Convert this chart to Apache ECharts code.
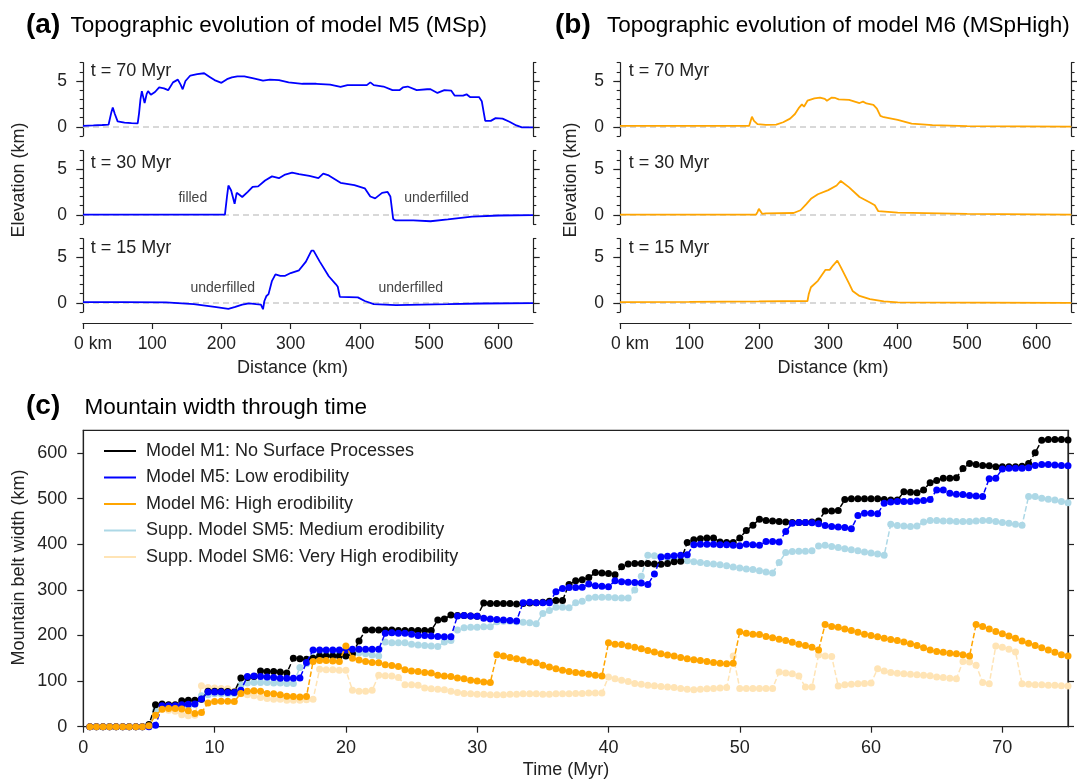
<!DOCTYPE html>
<html><head><meta charset="utf-8">
<script src="https://cdn.jsdelivr.net/npm/echarts@6/dist/echarts.min.js"></script>
<style>html,body{margin:0;padding:0;background:#fff}#c{width:1077px;height:782px}</style>
</head><body><div id="c"></div><script>
// ---------------- DATA ----------------
// Panel (a): model M5 topography profiles (distance km, elevation km)
const m5_70_dist = [0,15,28,37,39,41,43,46,50,60, 70,79,81,83,85,89,92,94,98,104, 110,117,123,130,137,141,144,148,155,165, 175,183,190,200,208,215,223,233,248,260, 270,283,297,317,337,357,372,382,397,410, 415,420,434,447,457,462,469,482,497,502, 512,522,532,537,549,554,559,572,576,579, 581,589,596,606,616,626,634,650];
const m5_70_elev = [0.1,0.15,0.2,0.25,0.3,1.6,2.1,1.4,0.6,0.45, 0.4,0.38,1.5,3.0,3.9,2.6,3.6,3.9,3.5,3.8, 4.3,4.2,4.0,4.85,5.15,4.6,4.1,5.0,5.6,5.75, 5.85,5.45,5.1,4.8,5.2,5.4,5.5,5.5,5.25,5.05, 5.15,5.1,4.85,4.7,4.7,4.6,4.35,4.55,4.55,4.55, 4.85,4.55,4.4,4.0,4.0,4.3,4.4,4.0,4.1,4.1, 3.7,4.0,3.95,3.4,3.4,3.55,3.25,3.25,2.8,1.5, 0.65,0.65,0.95,0.9,0.55,0.15,-0.05,-0.05];
const m5_30_dist = [0,100,200,205,208,210,214,219,222,225, 230,238,245,253,263,273,283,292,302,312, 327,340,347,355,372,392,407,415,422,432, 440,444,448,451,477,502,527,562,601,650];
const m5_30_elev = [0.02,0.02,0.02,0.02,2.0,3.2,2.65,1.2,2.4,2.25, 1.95,2.5,3.05,3.1,3.75,4.2,4.0,4.4,4.6,4.45, 4.25,4.0,4.5,4.3,3.5,3.25,2.9,2.0,1.8,2.4, 2.5,2.0,-0.45,-0.6,-0.6,-0.7,-0.5,-0.2,-0.07,-0.03];
const m5_15_dist = [0,60,120,160,190,210,220,230,240,250, 257,260,262,265,268,273,278,285,292,300, 312,322,330,333,342,355,365,368,371,397, 407,420,452,527,577,650];
const m5_15_elev = [0.07,0.07,0.05,-0.15,-0.45,-0.65,-0.45,-0.2,-0.05,-0.15, -0.2,-0.7,0.2,0.75,0.95,2.4,3.1,2.95,2.95,3.25, 3.55,4.5,5.7,5.7,4.5,2.9,2.05,1.75,0.65,0.6, 0.2,-0.15,-0.25,-0.15,-0.07,-0.03];
// Panel (b): model M6 topography profiles
const m6_70_dist = [0,100,186,188,190,193,198,210,225,235, 245,252,258,262,265,270,280,288,295,298, 305,310,315,330,345,350,355,365,370,375, 380,400,420,450,500,650];
const m6_70_elev = [0.1,0.1,0.1,0.3,1.1,0.65,0.3,0.22,0.25,0.5, 0.9,1.4,2.1,2.45,2.2,2.85,3.1,3.2,3.05,2.85, 3.2,3.15,3.0,2.95,2.6,2.75,2.55,2.4,2.0,1.2, 1.05,0.75,0.35,0.18,0.08,0.02];
const m6_30_dist = [0,100,196,198,200,205,210,250,260,268, 275,285,300,312,318,330,345,360,367,372, 400,500,650];
const m6_30_elev = [0.02,0.02,0.03,0.3,0.65,0.1,0.15,0.2,0.5,1.15, 1.75,2.25,2.7,3.2,3.7,3.0,1.95,1.35,1.05,0.4, 0.25,0.1,0.03];
const m6_15_dist = [0,100,200,270,272,275,285,296,302,307,313,318,330,335,345,360,380,400,650];
const m6_15_elev = [0.07,0.1,0.15,0.2,1.0,1.7,2.4,3.6,3.6,4.1,4.6,3.9,2.1,1.3,0.75,0.4,0.15,0.05,0.0];

// Panel (c): mountain belt width (km) through time (Myr)
const times = [0.5,1,1.5,2,2.5,3,3.5,4,4.5,5, 5.5,6,6.5,7,7.5,8,8.5,9,9.5,10, 10.5,11,11.5,12,12.5,13,13.5,14,14.5,15, 15.5,16,16.5,17,17.5,18,18.5,19,19.5,20, 20.5,21,21.5,22,22.5,23,23.5,24,24.5,25, 25.5,26,26.5,27,27.5,28,28.5,29,29.5,30, 30.5,31,31.5,32,32.5,33,33.5,34,34.5,35, 35.5,36,36.5,37,37.5,38,38.5,39,39.5,40, 40.5,41,41.5,42,42.5,43,43.5,44,44.5,45, 45.5,46,46.5,47,47.5,48,48.5,49,49.5,50, 50.5,51,51.5,52,52.5,53,53.5,54,54.5,55, 55.5,56,56.5,57,57.5,58,58.5,59,59.5,60, 60.5,61,61.5,62,62.5,63,63.5,64,64.5,65, 65.5,66,66.5,67,67.5,68,68.5,69,69.5,70, 70.5,71,71.5,72,72.5,73,73.5,74,74.5,75];
const widthM1 = [0,0,0,0,0,0,0,0,0,5, 48,50,48,48,57,58,58,60,78,78, 78,77,76,107,108,110,122,121,121,120, 118,150,149,148,150,155,155,155,155,155, 160,188,212,212,212,212,212,211,211,211, 211,211,211,234,236,245,244,244,243,242, 271,270,270,270,270,269,270,271,272,273, 275,277,277,312,320,322,327,338,337,336, 333,351,357,358,358,358,357,356,358,362, 363,404,410,412,414,414,405,404,404,414, 430,442,455,452,451,450,449,448,448,448, 449,451,473,473,474,498,500,500,500,500, 500,498,497,497,515,514,513,519,535,540, 545,545,546,566,577,575,573,572,570,570, 570,570,571,577,601,628,630,630,630,629];
const widthM5 = [0,0,0,0,0,0,0,0,0,0, 3,46,46,46,48,49,50,61,76,76, 76,75,75,80,110,111,110,109,108,106, 106,106,107,141,168,168,168,168,168,168, 170,170,170,170,170,205,206,205,205,203, 200,200,199,198,197,197,243,244,243,242, 238,236,235,234,233,232,272,273,272,272, 272,296,303,305,305,306,313,309,308,307, 320,318,317,316,315,312,335,372,374,375, 376,377,399,400,400,400,399,399,398,397, 400,399,398,406,406,405,428,446,448,448, 447,445,441,439,438,437,434,463,468,468, 467,490,493,494,494,494,495,496,498,519, 519,512,510,509,507,506,505,544,545,565, 567,567,567,568,573,575,575,574,573,572];
const widthM6 = [0,0,0,0,0,0,0,0,0,2, 25,38,40,40,39,35,29,31,52,55, 56,56,55,73,78,79,78,73,72,70, 67,66,65,66,143,145,145,144,143,177, 150,146,143,141,140,136,134,132,125,122, 121,119,118,113,111,110,107,105,102,100, 98,97,158,155,152,149,146,142,140,135, 131,127,124,121,119,117,115,113,111,184, 181,180,177,174,171,167,164,160,157,155, 152,149,147,145,143,141,139,138,139,208, 205,203,202,198,195,192,189,185,181,178, 174,168,224,220,218,214,211,207,203,200, 197,194,191,189,186,182,178,173,168,165, 163,161,160,158,155,224,220,214,209,204, 199,194,188,183,178,173,168,163,158,155];
const widthSM5 = [0,0,0,0,0,0,0,0,0,2, 35,42,43,43,42,45,50,68,70,72, 72,72,73,92,96,97,97,97,96,96, 95,95,130,138,152,158,158,160,163,165, 164,162,160,157,155,186,184,184,184,181, 179,178,177,176,186,189,212,217,218,218, 219,219,230,231,231,230,229,228,226,248, 255,262,262,261,272,275,282,284,284,284, 283,282,282,300,330,376,375,373,370,368, 366,364,362,360,358,357,355,353,350,348, 346,345,342,339,337,360,382,384,385,385, 386,396,398,395,393,390,388,386,383,381, 379,376,444,441,440,439,440,449,452,452, 451,451,450,450,450,451,452,452,450,448, 446,444,442,505,505,501,499,497,494,491];
const widthSM6 = [0,0,0,0,0,0,0,0,0,3, 30,38,36,34,26,24,25,90,86,85, 84,83,78,72,70,68,64,62,60,60, 58,58,58,59,60,126,125,125,124,124, 80,78,78,80,113,112,111,108,92,92, 91,85,83,82,81,78,75,73,72,71, 71,70,70,70,71,71,72,72,72,71, 71,72,72,72,73,73,74,74,74,109, 105,102,99,95,93,91,90,88,87,86, 84,82,81,82,83,84,85,86,155,84, 84,84,84,84,84,120,118,116,111,87, 87,157,155,154,89,92,93,94,95,96, 127,122,119,117,116,115,114,113,112,109, 108,106,105,143,142,135,97,94,177,174, 170,164,94,93,92,92,91,91,90,89];

const seriesNames = ['Model M1: No Surface Processes','Model M5: Low erodibility','Model M6: High erodibility','Supp. Model SM5: Medium erodibility','Supp. Model SM6: Very High erodibility'];
const kmTicks = [0,100,200,300,400,500,600];
const elevTicks = [0,5];
const widthTicks = [0,100,200,300,400,500,600];
const timeTicks = [0,10,20,30,40,50,60,70];
const profileLabels = ['t = 70 Myr','t = 30 Myr','t = 15 Myr'];

// ---------------- STYLE ----------------
const FF = "'Liberation Sans', Arial, Helvetica, sans-serif";
const AX = '#222';
const TX = '#222';
const pairs = (xs, ys) => xs.map((x, i) => [x, ys[i]]);

const grids = [];
const xAxes = [];
const yAxes = [];
const series = [];
const rowTops = [62.7, 150.7, 238.7];
const panels = [
  {left: 83, width: 450, color: '#0000ff', data: [[m5_70_dist, m5_70_elev],[m5_30_dist, m5_30_elev],[m5_15_dist, m5_15_elev]]},
  {left: 620, width: 451.3, color: '#ffa500', data: [[m6_70_dist, m6_70_elev],[m6_30_dist, m6_30_elev],[m6_15_dist, m6_15_elev]]}
];
panels.forEach((p, pi) => {
  rowTops.forEach((top, ri) => {
    const gi = grids.length;
    grids.push({left: p.left, top: top, width: p.width, height: 73.3, outerBoundsMode: 'none', containLabel: false});
    const isBottom = ri === 2;
    xAxes.push({
      gridIndex: gi, type: 'value', min: 0, max: 650, show: isBottom, position: 'bottom', offset: 11,
      axisLine: {show: true, onZero: false, lineStyle: {color: AX, width: 1.2}},
      axisTick: {show: true, customValues: kmTicks, length: 6, lineStyle: {color: AX, width: 1.2}},
      axisLabel: {show: true, customValues: kmTicks, fontSize: 17.5, fontFamily: FF, color: TX, margin: 12,
        formatter: v => v === 0 ? '{z|0 km}' : String(v),
        rich: {z: {fontSize: 17.5, fontFamily: FF, color: TX, padding: [0, 0, 0, 20]}}},
      splitLine: {show: false}
    });
    const yi = yAxes.length;
    const base = {gridIndex: gi, type: 'value', min: -1, max: 7, interval: 1, splitLine: {show: false}};
    yAxes.push(Object.assign({}, base, {position: 'left',
      axisLine: {show: true, onZero: false, lineStyle: {color: AX, width: 1.2}},
      axisTick: {show: true, length: 3.3, lineStyle: {color: AX, width: 1.1}}, axisLabel: {show: false}}));
    yAxes.push(Object.assign({}, base, {position: 'left',
      axisLine: {show: false, onZero: false},
      axisTick: {show: true, customValues: elevTicks, length: 6.7, lineStyle: {color: AX, width: 1.2}},
      axisLabel: {show: true, customValues: elevTicks, fontSize: 17.5, fontFamily: FF, color: TX, margin: 16}}));
    yAxes.push(Object.assign({}, base, {position: 'right',
      axisLine: {show: true, onZero: false, lineStyle: {color: AX, width: 1.2}},
      axisTick: {show: true, length: 3.3, lineStyle: {color: AX, width: 1.1}}, axisLabel: {show: false}}));
    yAxes.push(Object.assign({}, base, {position: 'right',
      axisLine: {show: false, onZero: false},
      axisTick: {show: true, customValues: elevTicks, length: 6.7, lineStyle: {color: AX, width: 1.2}},
      axisLabel: {show: false}}));
    series.push({
      type: 'line', xAxisIndex: gi, yAxisIndex: yi, data: pairs(p.data[ri][0], p.data[ri][1]),
      showSymbol: false, symbol: 'none', lineStyle: {color: p.color, width: 1.8}, itemStyle: {color: p.color},
      silent: true, z: 5,
      markLine: {silent: true, symbol: ['none', 'none'], label: {show: false},
        lineStyle: {color: '#cccccc', type: [6, 4], width: 1.5}, data: [{yAxis: 0}], z: 1}
    });
  });
});

// Panel (c)
const gc = grids.length;
grids.push({left: 83.3, top: 430.3, width: 984.7, height: 296.4, show: true, borderColor: AX, borderWidth: 1.2,
  backgroundColor: 'transparent', outerBoundsMode: 'none', containLabel: false});
const xc = xAxes.length;
xAxes.push({gridIndex: gc, type: 'value', min: 0, max: 75, position: 'bottom',
  axisLine: {show: true, onZero: false, lineStyle: {color: AX, width: 1.2}},
  axisTick: {show: true, customValues: timeTicks, length: 6, lineStyle: {color: AX, width: 1.2}},
  axisLabel: {show: true, customValues: timeTicks, fontSize: 18, fontFamily: FF, color: TX, margin: 12},
  splitLine: {show: false}});
const yc = yAxes.length;
yAxes.push({gridIndex: gc, type: 'value', min: 0, max: 650, position: 'left',
  axisLine: {show: true, onZero: false, lineStyle: {color: AX, width: 1.2}},
  axisTick: {show: true, customValues: widthTicks, length: 6, lineStyle: {color: AX, width: 1.2}},
  axisLabel: {show: true, customValues: widthTicks, fontSize: 18, fontFamily: FF, color: TX, margin: 16},
  splitLine: {show: false}});
yAxes.push({gridIndex: gc, type: 'value', min: 0, max: 650, position: 'right',
  axisLine: {show: true, onZero: false, lineStyle: {color: AX, width: 1.2}},
  axisTick: {show: true, customValues: widthTicks, length: 6, lineStyle: {color: AX, width: 1.2}},
  axisLabel: {show: false}, splitLine: {show: false}});

const cSeries = [
  {name: seriesNames[0], vals: widthM1, color: '#000000', z: 3},
  {name: seriesNames[1], vals: widthM5, color: '#0000ff', z: 4},
  {name: seriesNames[2], vals: widthM6, color: '#ffa500', z: 5},
  {name: seriesNames[3], vals: widthSM5, color: '#add8e6', z: 2},
  {name: seriesNames[4], vals: widthSM6, color: '#ffe4b5', z: 1}
];
cSeries.forEach(s => {
  series.push({
    name: s.name, type: 'line', xAxisIndex: xc, yAxisIndex: yc, data: pairs(times, s.vals),
    symbol: 'circle', symbolSize: 7, showSymbol: true, showAllSymbol: true,
    lineStyle: {color: s.color, width: 1.5, type: [5.5, 2.5]}, itemStyle: {color: s.color},
    z: s.z, silent: true
  });
});

// Texts
const T = (text, x, y, opts) => Object.assign({type: 'text', x: x, y: y, silent: true,
  style: Object.assign({text: text, fill: '#000', font: '22.5px ' + FF, textVerticalAlign: 'middle', textAlign: 'left'}, (opts && opts.style) || {})},
  (opts && opts.el) || {});
const graphics = [
  T('(a)', 26, 25, {style: {font: 'bold 28px ' + FF}}),
  T('Topographic evolution of model M5 (MSp)', 70.5, 26),
  T('(b)', 555, 25, {style: {font: 'bold 28px ' + FF}}),
  T('Topographic evolution of model M6 (MSpHigh)', 607, 26),
  T('(c)', 26, 406.7, {style: {font: 'bold 28px ' + FF}}),
  T('Mountain width through time', 84.4, 407.7),
  T('Distance (km)', 292.5, 368.3, {style: {font: '18px ' + FF, textAlign: 'center', fill: TX}}),
  T('Distance (km)', 833, 368.3, {style: {font: '18px ' + FF, textAlign: 'center', fill: TX}}),
  T('Time (Myr)', 566, 770, {style: {font: '18px ' + FF, textAlign: 'center', fill: TX}}),
  T('Elevation (km)', 19.5, 180, {style: {font: '18px ' + FF, textAlign: 'center', fill: TX}, el: {rotation: Math.PI / 2}}),
  T('Elevation (km)', 571.5, 180, {style: {font: '18px ' + FF, textAlign: 'center', fill: TX}, el: {rotation: Math.PI / 2}}),
  T('Mountain belt width (km)', 19.5, 567.5, {style: {font: '18px ' + FF, textAlign: 'center', fill: TX}, el: {rotation: Math.PI / 2}}),
  T('filled', 192.8, 198.3, {style: {font: '14px ' + FF, textAlign: 'center', fill: '#444'}}),
  T('underfilled', 436.6, 198.3, {style: {font: '14px ' + FF, textAlign: 'center', fill: '#444'}}),
  T('underfilled', 222.8, 288.3, {style: {font: '14px ' + FF, textAlign: 'center', fill: '#444'}}),
  T('underfilled', 410.8, 288.3, {style: {font: '14px ' + FF, textAlign: 'center', fill: '#444'}})
];
[90.7, 628.8].forEach(x => {
  profileLabels.forEach((lab, i) => {
    graphics.push(T(lab, x, [71, 163.3, 248.3][i], {style: {font: '18px ' + FF, fill: TX}}));
  });
});

const chart = echarts.init(document.getElementById('c'), null, {renderer: 'canvas', width: 1077, height: 782});
chart.setOption({
  animation: false,
  backgroundColor: '#ffffff',
  textStyle: {fontFamily: FF},
  grid: grids,
  xAxis: xAxes,
  yAxis: yAxes,
  legend: {orient: 'vertical', left: 99, top: 437, itemWidth: 32, itemHeight: 2, itemGap: 8.5, icon: 'rect',
    selectedMode: false, data: seriesNames,
    textStyle: {fontSize: 18, fontFamily: FF, color: TX, padding: [0, 0, 0, 5]}},
  series: series,
  graphic: {elements: graphics}
});
</script></body></html>
